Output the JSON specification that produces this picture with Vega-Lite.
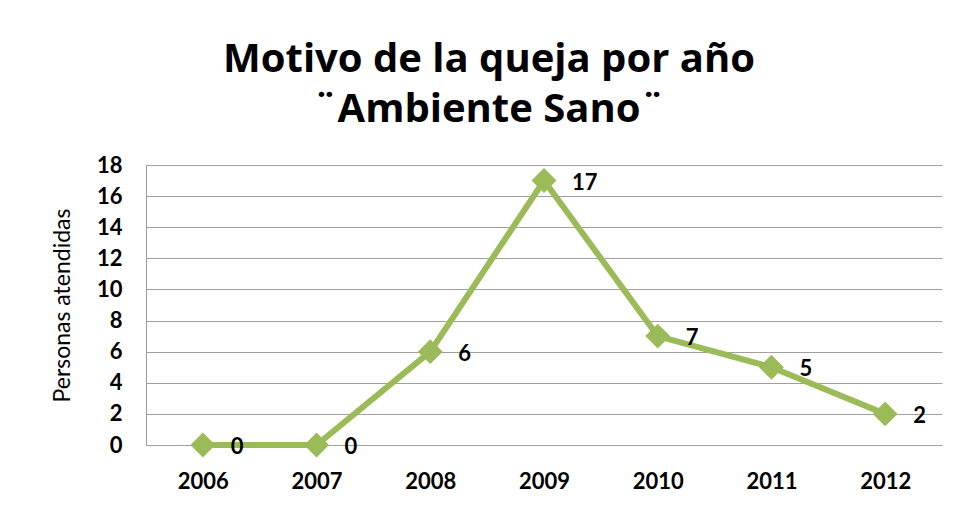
{
  "$schema": "https://vega.github.io/schema/vega-lite/v6.json",
  "width": 796,
  "height": 280,
  "autosize": {"type": "none"},
  "padding": {"left": 146, "top": 165, "right": 19, "bottom": 69},
  "background": "white",
  "title": {
    "text": ["Motivo de la queja por año", "¨Ambiente Sano¨"],
    "font": "Open Sans",
    "fontSize": 40,
    "fontWeight": "bold",
    "color": "#000000",
    "anchor": "middle",
    "dx": -55,
    "lineHeight": 50,
    "offset": 24
  },
  "data": {
    "values": [
      {"year": "2006", "value": 0},
      {"year": "2007", "value": 0},
      {"year": "2008", "value": 6},
      {"year": "2009", "value": 17},
      {"year": "2010", "value": 7},
      {"year": "2011", "value": 5},
      {"year": "2012", "value": 2}
    ]
  },
  "config": {
    "view": {"stroke": null},
    "axis": {"labelFont": "Lato", "titleFont": "Lato"}
  },
  "encoding": {
    "x": {
      "field": "year",
      "type": "ordinal",
      "scale": {"paddingInner": 0, "paddingOuter": 0},
      "axis": {
        "title": null,
        "labelAngle": 0,
        "labelFontSize": 22,
        "labelFontWeight": "bold",
        "labelColor": "#000000",
        "labelPadding": 26,
        "ticks": false,
        "domain": false,
        "grid": false
      }
    },
    "y": {
      "field": "value",
      "type": "quantitative",
      "scale": {"domain": [0, 18], "nice": false},
      "axis": {
        "title": "Personas  atendidas",
        "titleFontSize": 23,
        "titleFontWeight": "normal",
        "titleColor": "#000000",
        "titlePadding": 22,
        "values": [0, 2, 4, 6, 8, 10, 12, 14, 16, 18],
        "labelFontSize": 22,
        "labelFontWeight": "bold",
        "labelColor": "#000000",
        "labelPadding": 24,
        "ticks": false,
        "domain": true,
        "domainColor": "#9a9a9a",
        "grid": true,
        "gridColor": "#a0a0a0",
        "gridWidth": 1.2
      }
    }
  },
  "layer": [
    {
      "mark": {"type": "line", "color": "#9BBB59", "strokeWidth": 6}
    },
    {
      "mark": {"type": "point", "shape": "diamond", "filled": true, "color": "#9BBB59", "opacity": 1, "size": 620}
    },
    {
      "mark": {"type": "text", "align": "left", "baseline": "middle", "dx": 28, "dy": 2, "font": "Lato", "fontSize": 22, "fontWeight": "bold", "color": "#000000"},
      "encoding": {"text": {"field": "value", "type": "quantitative"}}
    }
  ]
}
